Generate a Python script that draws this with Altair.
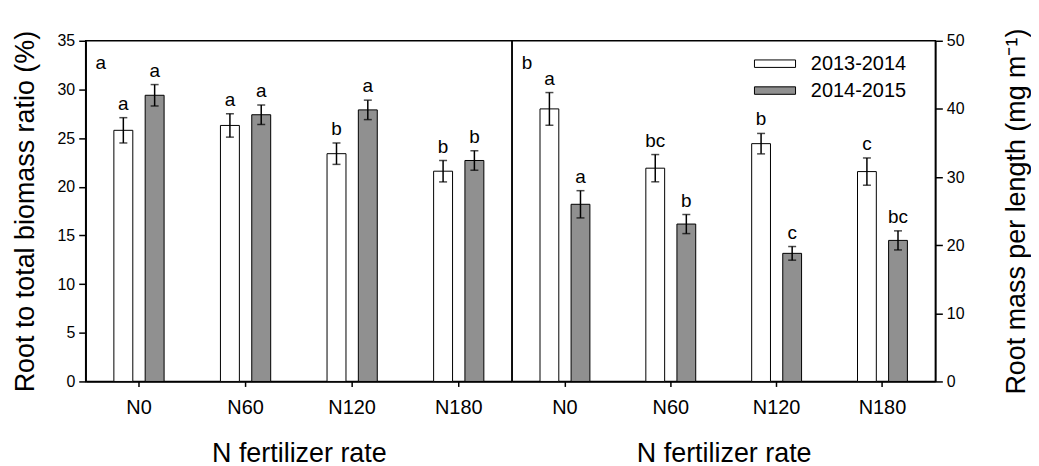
import altair as alt
import pandas as pd

rates = ["N0", "N60", "N120", "N180"]
seasons = ["2013-2014", "2014-2015"]

ratio_1314 = [25.8, 26.3, 23.4, 21.6]
ratio_1314_err = [1.3, 1.2, 1.1, 1.1]
ratio_1314_letters = ["a", "a", "b", "b"]
ratio_1415 = [29.4, 27.4, 27.9, 22.7]
ratio_1415_err = [1.1, 1.0, 1.0, 1.0]
ratio_1415_letters = ["a", "a", "a", "b"]

rml_1314 = [40.0, 31.3, 34.9, 30.8]
rml_1314_err = [2.4, 2.0, 1.5, 2.0]
rml_1314_letters = ["a", "bc", "b", "c"]
rml_1415 = [26.0, 23.1, 18.8, 20.7]
rml_1415_err = [2.0, 1.4, 1.0, 1.4]
rml_1415_letters = ["a", "b", "c", "bc"]

FONT = "Liberation Sans"


def make_df(v1, e1, l1, v2, e2, l2):
    rows = []
    for season, vals, errs, lets in [(seasons[0], v1, e1, l1), (seasons[1], v2, e2, l2)]:
        for r, v, e, l in zip(rates, vals, errs, lets):
            rows.append({"rate": r, "season": season, "value": v,
                         "lo": v - e, "hi": v + e, "letter": l})
    return pd.DataFrame(rows)


df_left = make_df(ratio_1314, ratio_1314_err, ratio_1314_letters,
                  ratio_1415, ratio_1415_err, ratio_1415_letters)
df_right = make_df(rml_1314, rml_1314_err, rml_1314_letters,
                   rml_1415, rml_1415_err, rml_1415_letters)


def panel(df, ymax, step, ytitle, orient, label, width, show_legend):
    xaxis = alt.Axis(title="N fertilizer rate", labelAngle=0, labelFontSize=20,
                     titleFontSize=27, titleFontWeight="normal", tickSize=5,
                     labelPadding=11, titlePadding=23, bandPosition=0.5,
                     domainColor="black", domainWidth=1.5, tickColor="black",
                     tickWidth=1.5, labelColor="black", titleColor="black")
    yaxis_kw = dict(title=ytitle, orient=orient, values=list(range(0, ymax + 1, step)),
                    labelFontSize=16, titleFontSize=27, titleFontWeight="normal",
                    tickSize=7, labelPadding=4, domainColor="black", domainWidth=1.5,
                    tickColor="black", tickWidth=1.5, labelColor="black",
                    titleColor="black", grid=False)
    if orient == "right":
        yaxis_kw.update(titleAngle=270, titleBaseline="top", titlePadding=40)
    else:
        yaxis_kw.update(titlePadding=18)
    yscale = alt.Scale(domain=[0, ymax], nice=False, zero=True)

    base = alt.Chart(df).encode(
        x=alt.X("rate:N", sort=rates, scale=alt.Scale(paddingInner=0, paddingOuter=0), axis=xaxis),
        xOffset=alt.XOffset("season:N", sort=seasons,
                            scale=alt.Scale(domain=seasons, paddingInner=0.395, paddingOuter=0.9)),
    )
    if show_legend:
        legend = alt.Legend(title=None, orient="none", legendX=254, legendY=13,
                            symbolType="M-2.75,-0.5H2.75V0.5H-2.75Z", symbolSize=225,
                            symbolStrokeColor="black", symbolStrokeWidth=1,
                            labelFontSize=20, labelOffset=26, rowPadding=7,
                            labelColor="black", padding=0)
    else:
        legend = None
    bars = base.mark_bar(stroke="black", strokeWidth=1).encode(
        y=alt.Y("value:Q", scale=yscale, axis=alt.Axis(**yaxis_kw)),
        fill=alt.Fill("season:N", sort=seasons,
                      scale=alt.Scale(domain=seasons, range=["white", "#909090"]),
                      legend=legend),
    )
    rules = base.mark_rule(color="black", strokeWidth=1.5).encode(
        y=alt.Y("lo:Q", scale=yscale, title=ytitle), y2="hi:Q")
    cap_hi = base.mark_tick(color="black", size=8, thickness=1.5).encode(
        y=alt.Y("hi:Q", scale=yscale, title=ytitle))
    cap_lo = base.mark_tick(color="black", size=8, thickness=1.5).encode(
        y=alt.Y("lo:Q", scale=yscale, title=ytitle))
    letters = base.mark_text(baseline="bottom", dy=-4, fontSize=19, color="black").encode(
        y=alt.Y("hi:Q", scale=yscale, title=ytitle), text="letter:N")
    plabel = alt.Chart(pd.DataFrame({"t": [label]})).mark_text(
        fontSize=19, color="black", baseline="alphabetic", align="center").encode(
        x=alt.value(15), y=alt.value(28), text="t:N")
    return alt.layer(bars, rules, cap_hi, cap_lo, letters, plabel).properties(
        width=width, height=342)


left = panel(df_left, 35, 5, "Root to total biomass ratio (%)", "left", "a", 428, False)
right = panel(df_right, 50, 10, "Root mass per  length (mg m⁻¹)", "right", "b", 425, True)

chart = alt.hconcat(left, right, spacing=0, bounds="flush").resolve_scale(
    y="independent", x="independent", xOffset="independent"
).resolve_legend(fill="independent").properties(
    padding={"left": 2, "right": 0, "top": 14, "bottom": 0}
).configure(font=FONT).configure_view(stroke="black", strokeWidth=1.5)

chart.save("out.html", embed_options={"renderer": "svg", "actions": False})
